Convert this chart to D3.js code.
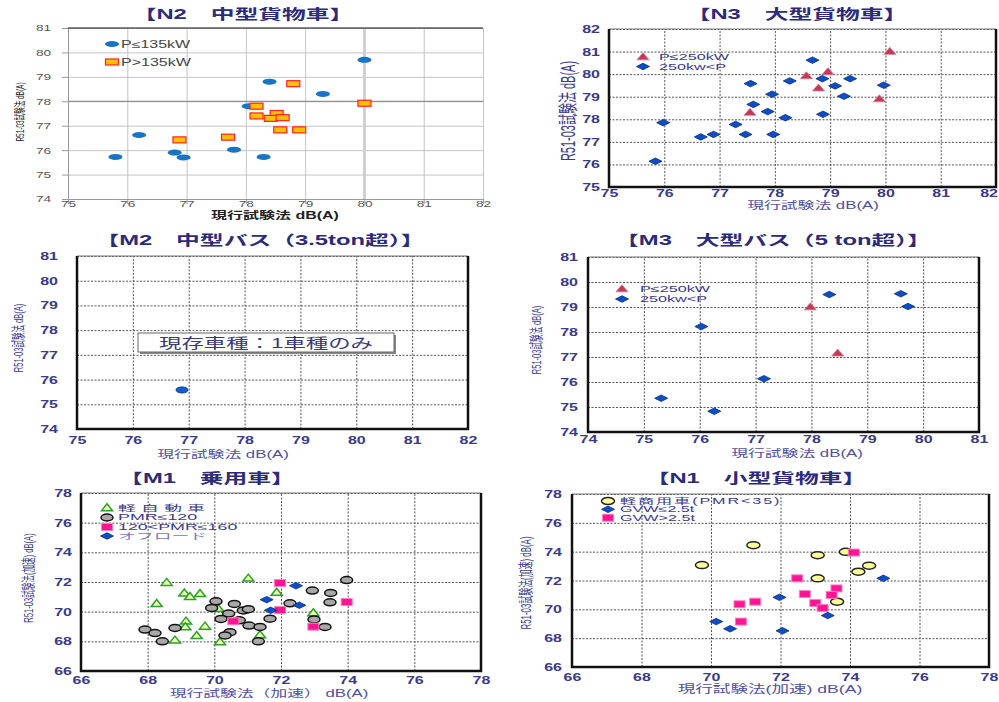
<!DOCTYPE html>
<html><head><meta charset="utf-8">
<script src="https://cdn.jsdelivr.net/npm/d3@7"></script>
<style>body{margin:0;background:#fff}svg{display:block}</style>
</head><body><script>
// ---------------- DATA ----------------
const ticks75to82 = [75,76,77,78,79,80,81,82];
const ticks74to81 = [74,75,76,77,78,79,80,81];
const ticks66to78 = [66,68,70,72,74,76,78];

const titles = ["【N2　中型貨物車】","【N3　大型貨物車】","【M2　中型バス（3.5ton超）】","【M3　大型バス（5 ton超）】","【M1　乗用車】","【N1　小型貨物車】"];
const xTitles = ["現行試験法 dB(A)","現行試験法（加速） dB(A)","現行試験法(加速) dB(A)"];
const yTitles = ["R51-03試験法 dB(A)","R51-03試験法(加速) dB(A)"];
const m2Note = "現存車種：1車種のみ";

const n2Legend = ["P≤135kW","P>135kW"];
const n2Low = [[75.8,75.72],[76.2,76.62],[76.8,75.9],[76.95,75.7],[77.8,76.02],[78.3,75.72],[78.05,77.8],[78.4,78.8],[79.3,78.3],[80.0,79.7]];
const n2High = [[76.88,76.42],[77.7,76.53],[78.18,77.8],[78.18,77.4],[78.52,77.5],[78.42,77.3],[78.62,77.33],[78.58,76.83],[78.9,76.83],[78.8,78.72],[80.0,77.92]];

const busLegend = ["P≤250kW","250kw<P"];
const n3Low = [[80.08,81.0],[78.96,80.1],[78.57,79.92],[78.79,79.38],[77.55,78.3],[79.89,78.9]];
const n3High = [[78.68,80.62],[78.27,79.7],[78.86,79.8],[79.36,79.8],[79.09,79.48],[79.97,79.51],[77.56,79.58],[77.95,79.11],[79.25,79.02],[77.61,78.66],[77.87,78.34],[78.19,78.07],[78.87,78.22],[75.98,77.85],[77.29,77.77],[77.47,77.33],[77.97,77.33],[76.89,77.33],[76.66,77.22],[75.84,76.14]];

const m2Pts = [[76.88,75.58]];

const m3Low = [[77.98,79.0],[78.47,77.15]];
const m3High = [[78.32,79.5],[79.6,79.53],[79.73,79.02],[76.03,78.22],[77.15,76.13],[75.31,75.35],[76.26,74.83]];

const m1Legend = ["軽自動車","PMR≤120","120<PMR≤160","オフロード"];
const m1Kei = [[68.57,71.96],[68.27,70.54],[69.1,71.24],[69.27,71.01],[69.57,71.21],[71.02,72.25],[71.87,71.3],[69.15,69.35],[69.13,68.97],[69.72,69.01],[69.47,68.38],[68.82,68.07],[70.17,67.96],[70.12,70.2],[71.37,68.43],[72.97,69.91]];
const m1Pmr120 = [[67.92,68.79],[68.22,68.56],[68.44,68.0],[68.82,68.9],[70.05,70.7],[69.92,70.25],[70.43,69.87],[70.2,69.51],[70.6,70.52],[70.47,68.62],[70.32,68.4],[70.87,70.08],[71.02,70.17],[71.04,69.06],[71.37,68.97],[71.32,68.0],[71.67,69.53],[72.27,70.56],[72.94,71.42],[73.49,71.26],[73.47,70.63],[72.99,69.48],[73.32,68.97],[73.97,72.13],[70.75,69.42]];
const m1Pmr160 = [[71.97,71.93],[71.97,70.11],[72.97,68.99],[73.97,70.65],[70.57,69.35]];
const m1Off = [[72.45,71.75],[71.57,70.81],[71.69,70.09],[72.55,70.43]];

const n1Legend = ["軽商用車(PMR<35)","GVW≤2.5t","GVW>2.5t"];
const n1Kei = [[69.74,73.07],[71.22,74.45],[73.07,73.76],[73.07,72.15],[73.88,73.99],[74.24,72.61],[74.55,73.03],[73.63,70.53]];
const n1Light = [[70.15,69.15],[70.55,68.65],[71.97,70.83],[72.06,68.51],[73.36,69.57],[74.96,72.15]];
const n1Heavy = [[74.11,73.94],[72.48,72.15],[72.7,71.06],[73.61,71.45],[73.47,71.0],[73.0,70.44],[73.21,70.1],[71.27,70.53],[70.82,70.35],[70.86,69.15]];

// ---------------- STYLE ----------------
const FONT = "'Liberation Sans', Arial, 'Noto Sans CJK JP', sans-serif";
const SX = 1.6;
const NAVY = "#3a3a8c", TITLE = "#2b2b7a";
const MK = {
  n2Blue:{shape:'ellipse',w:14,h:6,fill:'#1874c6',stroke:'none',sw:0},
  n2Orange:{shape:'rect',w:13,h:6,fill:'#ffc000',stroke:'#ff2020',sw:1.2},
  tri:{shape:'triangle',w:12,h:7,fill:'#c23a58',stroke:'#e07090',sw:0.8},
  dia:{shape:'diamond',w:13,h:6.5,fill:'#0a4fc8',stroke:'#0a2a80',sw:0.8},
  m2Blue:{shape:'ellipse',w:12,h:6,fill:'#1060d0',stroke:'#0a3a90',sw:1},
  kei:{shape:'triangle',w:11,h:7,fill:'#f0ffb0',stroke:'#2aa02a',sw:1.5},
  gray:{shape:'ellipse',w:12,h:7,fill:'#a8a8a8',stroke:'#111',sw:1.5},
  pink:{shape:'rect',w:11,h:7,fill:'#ff1493',stroke:'#ff80c0',sw:1},
  yel:{shape:'ellipse',w:13,h:7,fill:'#ffff99',stroke:'#222',sw:1.5}
};

const svg = d3.select('body').append('svg').attr('width',999).attr('height',702);

function drawMark(sel, m){
  if(m.shape==='ellipse') sel.append('ellipse').attr('rx',m.w/2).attr('ry',m.h/2);
  else if(m.shape==='rect') sel.append('rect').attr('x',-m.w/2).attr('y',-m.h/2).attr('width',m.w).attr('height',m.h);
  else if(m.shape==='diamond') sel.append('path').attr('d',`M0,${-m.h/2}L${m.w/2},0L0,${m.h/2}L${-m.w/2},0Z`);
  else if(m.shape==='triangle') sel.append('path').attr('d',`M0,${-m.h*0.6}L${m.w/2},${m.h*0.4}L${-m.w/2},${m.h*0.4}Z`);
  sel.selectAll('*').attr('fill',m.fill).attr('stroke',m.stroke).attr('stroke-width',m.sw);
}
function sText(parent,x,y,str,o){
  const g=parent.append('g').attr('transform',`translate(${x},${y}) scale(${o.sx||SX},1)`);
  return g.append('text').attr('text-anchor',o.anchor||'start').attr('dy','0.35em')
    .attr('font-family',FONT).attr('font-size',o.size||10).attr('font-weight',o.weight||'normal')
    .attr('fill',o.color||NAVY).attr('letter-spacing',o.ls||0).text(str);
}
function vText(parent,x,y,str,o){
  parent.append('g').attr('transform',`translate(${x},${y}) rotate(-90) scale(1,${o.sy||1.8})`)
    .append('text').attr('text-anchor','middle').attr('dy','0.35em')
    .attr('font-family',FONT).attr('font-size',o.size||8).attr('fill',o.color||NAVY).text(str);
}

function panel(c){
  const g=svg.append('g');
  const x=d3.scaleLinear().domain([c.xTicks[0],c.xTicks[c.xTicks.length-1]]).range([c.L,c.R]);
  const y=d3.scaleLinear().domain([c.yTicks[0],c.yTicks[c.yTicks.length-1]]).range([c.B,c.T]);
  const h=c.B-c.T, w=c.R-c.L;
  const fmt=d3.format('d');
  // grid
  const gx=g.append('g').attr('transform',`translate(0,${c.B})`).call(d3.axisBottom(x).tickValues(c.xTicks).tickSize(-h).tickFormat(''));
  const gy=g.append('g').attr('transform',`translate(${c.L},0)`).call(d3.axisLeft(y).tickValues(c.yTicks).tickSize(-w).tickFormat(''));
  [gx,gy].forEach(a=>{a.select('.domain').remove();
    a.selectAll('line').attr('stroke',c.grid.color).attr('stroke-dasharray',c.grid.dash).attr('stroke-width',c.grid.width);});
  if(c.plain){
    g.append('line').attr('x1',x(80)).attr('x2',x(80)).attr('y1',c.T).attr('y2',c.B).attr('stroke','#d0d0d0').attr('stroke-width',3);
    g.append('line').attr('x1',c.L).attr('x2',c.R).attr('y1',y(78)).attr('y2',y(78)).attr('stroke','#909090').attr('stroke-width',1.2);
    const ax=g.append('g').attr('transform',`translate(0,${c.B})`).call(d3.axisBottom(x).tickValues(c.xTicks).tickSize(5).tickSizeOuter(0).tickFormat(''));
    const ay=g.append('g').attr('transform',`translate(${c.L},0)`).call(d3.axisLeft(y).tickValues(c.yTicks).tickSize(6).tickSizeOuter(0).tickFormat(''));
    [ax,ay].forEach(a=>{a.selectAll('line,path').attr('stroke','#999');});
    g.append('line').attr('x1',c.L).attr('x2',c.R).attr('y1',c.T).attr('y2',c.T).attr('stroke','#111').attr('stroke-width',1.2);
  } else {
    g.append('line').attr('x1',c.L).attr('x2',c.R).attr('y1',c.T).attr('y2',c.T).attr('stroke','#777').attr('stroke-width',1);
    g.append('path').attr('d',`M${c.L},${c.T}V${c.B}H${c.R}V${c.T}`).attr('fill','none').attr('stroke','#111').attr('stroke-width',2.5);
  }
  // tick labels
  const lx=g.append('g').attr('transform',`translate(0,${c.B+c.xLab})`).call(d3.axisBottom(x).tickValues(c.xTicks).tickSize(0).tickPadding(0).tickFormat(fmt));
  lx.select('.domain').remove();
  const ly=g.append('g').attr('transform',`translate(${c.L-c.yLab},0)`).call(d3.axisLeft(y).tickValues(c.yTicks).tickSize(0).tickPadding(0).tickFormat(fmt));
  ly.select('.domain').remove();
  [lx,ly].forEach(a=>a.selectAll('text').attr('x',0).attr('y',0).attr('dy','0.35em').attr('transform',`scale(${SX},1)`)
     .attr('fill',c.lab.color).attr('font-size',c.lab.size).attr('font-weight',c.lab.weight).attr('font-family',FONT));
  if(c.clipLastX){
    // last x label sits at the page edge: keep it inside
    lx.selectAll('.tick').filter(d=>d===c.xTicks[c.xTicks.length-1])
      .attr('transform',`translate(${998},0)`).select('text').attr('text-anchor','end');
  }
  if(c.extra) c.extra(g,x,y);
  // series
  c.series.forEach(s=>{
    g.append('g').selectAll('g').data(s.data).join('g')
      .attr('transform',d=>`translate(${x(d[0])},${y(d[1])})`)
      .each(function(){drawMark(d3.select(this),s.mark);});
  });
  // legend
  if(c.legend){
    c.series.forEach((s,i)=>{
      if(s.label===undefined) return;
      const ly0=c.legend.ys[i];
      drawMark(g.append('g').attr('transform',`translate(${c.legend.mx},${ly0})`),s.mark);
      sText(g,c.legend.tx,ly0,s.label,{size:c.legend.size,sx:c.legend.sx,color:s.lcolor||c.legend.color,ls:s.ls});
    });
  }
  // titles
  sText(g,c.title.x,c.title.y,c.title.text,{anchor:'middle',size:14,sx:1.7,weight:'bold',color:TITLE});
  sText(g,c.xt.x,c.xt.y,c.xt.text,{anchor:'middle',size:c.xt.size,color:c.xt.color,weight:c.xt.weight});
  vText(g,c.yt.x,c.yt.y,c.yt.text,{size:c.yt.size,color:c.yt.color});
}

const dashGrid={color:'#555',dash:'2,1.5',width:1};
const navyLab={color:NAVY,size:10,weight:'bold'};

// N2
panel({L:68,R:483,T:28,B:199,xTicks:ticks75to82,yTicks:ticks74to81,plain:true,
  grid:{color:'#c4c4c4',dash:null,width:1},xLab:5,yLab:17,lab:{color:'#555',size:8.5,weight:'normal'},
  series:[{data:n2Low,mark:MK.n2Blue,label:n2Legend[0]},{data:n2High,mark:MK.n2Orange,label:n2Legend[1]}],
  legend:{mx:112,tx:121,ys:[44,62],size:10,color:'#444'},
  title:{x:243,y:14,text:titles[0]},
  xt:{x:275,y:215,text:xTitles[0],size:10,color:'#222',weight:'bold'},
  yt:{x:20,y:112,text:yTitles[0],size:6.5,color:'#222'}});

// N3
panel({L:609,R:996,T:29,B:187,xTicks:ticks75to82,yTicks:ticks75to82,clipLastX:true,
  grid:dashGrid,xLab:6,yLab:9,lab:navyLab,
  series:[{data:n3Low,mark:MK.tri,label:busLegend[0]},{data:n3High,mark:MK.dia,label:busLegend[1]}],
  legend:{mx:643,tx:659,ys:[57,66.5],size:9,sx:1.8,color:NAVY},
  title:{x:797,y:14,text:titles[1]},
  xt:{x:813,y:205,text:xTitles[0],size:10.5,color:'#5050a0'},
  yt:{x:568,y:111,text:yTitles[0],size:11,color:NAVY}});

// M2
panel({L:77,R:468,T:256,B:429,xTicks:ticks75to82,yTicks:ticks74to81,
  grid:dashGrid,xLab:11,yLab:19,lab:navyLab,
  series:[{data:m2Pts,mark:MK.m2Blue}],
  extra:(g)=>{
    g.append('rect').attr('x',140).attr('y',335).attr('width',256).attr('height',19).attr('fill','#888');
    g.append('rect').attr('x',138).attr('y',333).attr('width',256).attr('height',19).attr('fill','#fff').attr('stroke','#666').attr('stroke-width',1);
    sText(g,266,343,m2Note,{anchor:'middle',size:14,color:'#3a3a7a'});
  },
  title:{x:260,y:240,text:titles[2]},
  xt:{x:223,y:454,text:xTitles[0],size:10.5,color:'#5050a0'},
  yt:{x:18,y:338,text:yTitles[0],size:7.5,color:NAVY}});

// M3
panel({L:588,R:979,T:257,B:432,xTicks:ticks74to81,yTicks:ticks74to81,
  grid:dashGrid,xLab:7,yLab:10,lab:navyLab,
  series:[{data:m3Low,mark:MK.tri,label:busLegend[0]},{data:m3High,mark:MK.dia,label:busLegend[1]}],
  legend:{mx:622,tx:640,ys:[289,299],size:9,sx:1.8,color:NAVY},
  title:{x:773,y:240,text:titles[3]},
  xt:{x:797,y:453,text:xTitles[0],size:10.5,color:'#5050a0'},
  yt:{x:536,y:340,text:yTitles[0],size:7.5,color:NAVY}});

// M1
panel({L:81,R:481,T:493,B:671,xTicks:ticks66to78,yTicks:ticks66to78,
  grid:dashGrid,xLab:9,yLab:9,lab:navyLab,
  series:[{data:m1Kei,mark:MK.kei,label:m1Legend[0],ls:2.5},{data:m1Pmr120,mark:MK.gray,label:m1Legend[1]},
          {data:m1Pmr160,mark:MK.pink,label:m1Legend[2]},{data:m1Off,mark:MK.dia,label:m1Legend[3],lcolor:'#7878b8'}],
  legend:{mx:107,tx:118,ys:[508,517.5,527,536],size:8.5,sx:2.1,color:NAVY},
  title:{x:207,y:478,text:titles[4]},
  xt:{x:269,y:693,text:xTitles[1],size:10.5,color:'#5050a0'},
  yt:{x:28,y:578,text:yTitles[1],size:7.6,color:NAVY}});

// N1
panel({L:572,R:989,T:494,B:667,xTicks:ticks66to78,yTicks:ticks66to78,
  grid:dashGrid,xLab:10,yLab:10,lab:navyLab,
  series:[{data:n1Kei,mark:MK.yel,label:n1Legend[0],ls:1},{data:n1Light,mark:MK.dia,label:n1Legend[1]},{data:n1Heavy,mark:MK.pink,label:n1Legend[2]}],
  legend:{mx:608,tx:620,ys:[501,509.3,517.7],size:8.5,sx:1.9,color:NAVY},
  title:{x:756,y:478,text:titles[5]},
  xt:{x:770,y:689,text:xTitles[2],size:11,color:'#5050a0'},
  yt:{x:526,y:583,text:yTitles[1],size:7.9,color:NAVY}});
</script></body></html>
